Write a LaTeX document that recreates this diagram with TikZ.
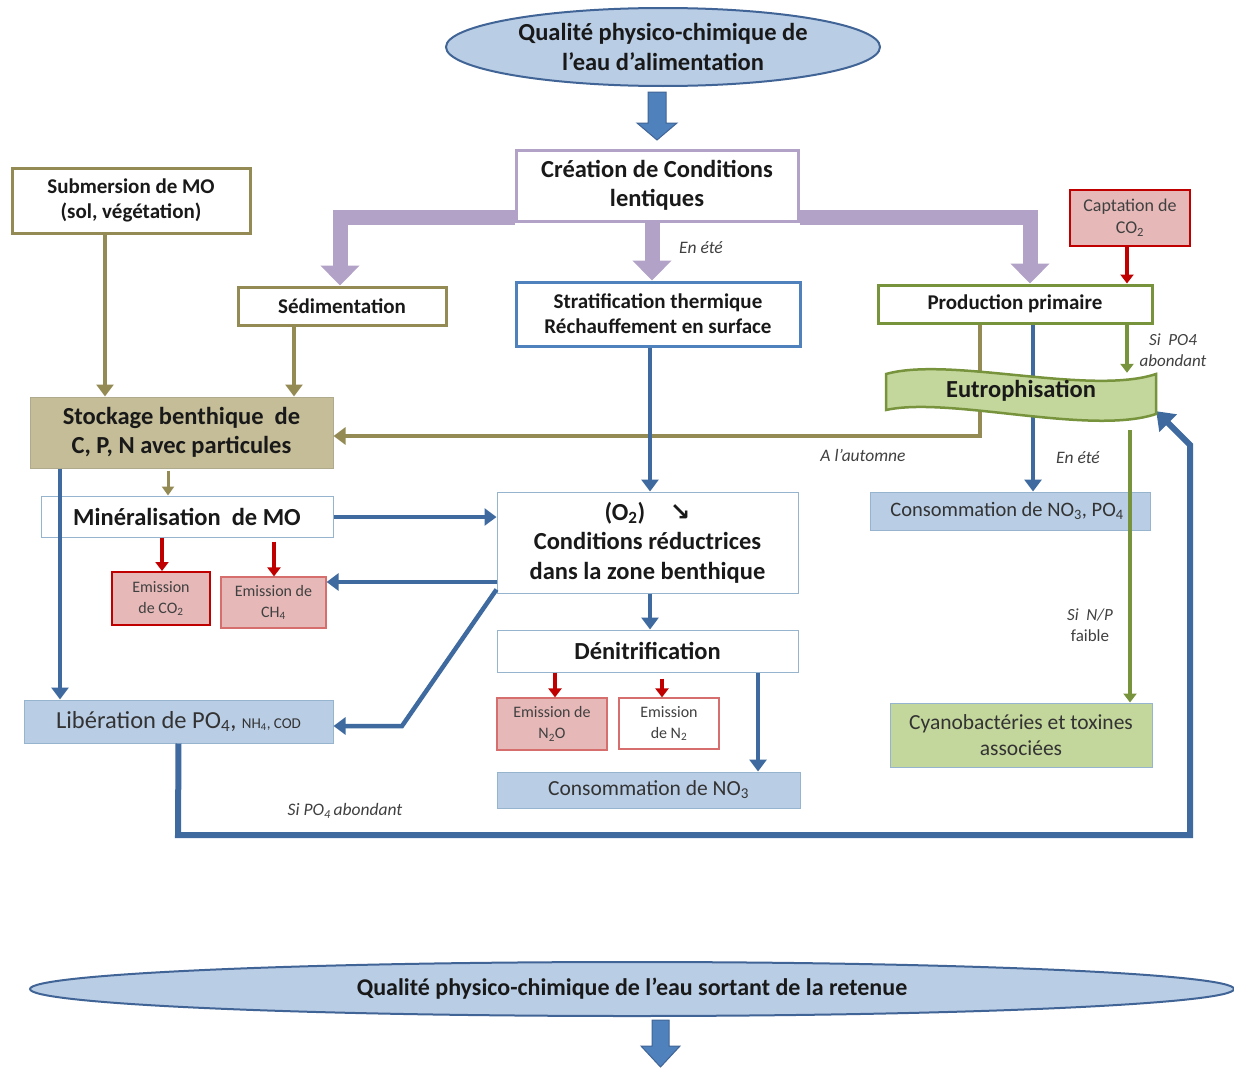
\documentclass[tikz,border=0pt]{standalone}
\usepackage{fontspec}
\setmainfont{Carlito}
\newfontfamily\symfont{DejaVu Sans}
\usetikzlibrary{arrows.meta,shapes.geometric,calc}
\definecolor{cBlue}{RGB}{62,106,160}
\definecolor{cLBlue}{RGB}{185,205,229}
\definecolor{cEBlue}{RGB}{65,100,150}
\definecolor{cBBlue}{RGB}{79,129,189}
\definecolor{cPurp}{RGB}{179,162,199}
\definecolor{cOlive}{RGB}{148,138,84}
\definecolor{cTan}{RGB}{196,189,151}
\definecolor{cTanB}{RGB}{175,170,140}
\definecolor{cGreen}{RGB}{119,147,60}
\definecolor{cGFill}{RGB}{195,214,155}
\definecolor{cRed}{RGB}{192,0,0}
\definecolor{cRedL}{RGB}{215,110,110}
\definecolor{cPink}{RGB}{230,185,184}
\definecolor{cThin}{RGB}{150,180,205}
\definecolor{cTxt}{RGB}{25,25,25}
\definecolor{cLbl}{RGB}{64,64,64}
\tikzset{
  boxbase/.style={rectangle, inner sep=0pt, align=center, text=cTxt},
  bigbold/.style={font=\fontsize{24.5}{29.5}\selectfont\bfseries},
  midbold/.style={font=\fontsize{21}{25}\selectfont\bfseries},
  olivebox/.style={boxbase, draw=cOlive, line width=3pt, fill=white, midbold},
  purpbox/.style={boxbase, draw=cPurp, line width=3pt, fill=white, bigbold},
  bluebox/.style={boxbase, draw=cBBlue, line width=3pt, fill=white, midbold},
  greenbox/.style={boxbase, draw=cGreen, line width=3pt, fill=white, midbold},
  thinbox/.style={boxbase, draw=cThin, line width=1pt, fill=white, bigbold},
  lbbox/.style={boxbase, draw=cThin, line width=1pt, fill=cLBlue, font=\fontsize{21.5}{24}\selectfont, text=black!80},
  pinkbox/.style={boxbase, draw=cRed, line width=2pt, fill=cPink, font=\fontsize{16}{21}\selectfont, text=black!75},
  ellbox/.style={ellipse, inner sep=0pt, align=center, draw=cEBlue, line width=2pt, fill=cLBlue, text=cTxt},
  bconn/.style={draw=cBlue, line width=4.5pt, -{Triangle[length=12pt,width=17pt]}},
  oconn/.style={draw=cOlive, line width=4.5pt, -{Triangle[length=12pt,width=17pt]}},
  pconn/.style={draw=cPurp, line width=15pt, line join=miter, -{Triangle[length=20pt,width=38pt]}},
  rconn/.style={draw=cRed, line width=3.5pt, -{Triangle[length=9pt,width=13pt]}},
  gconn/.style={draw=cGreen, line width=3.5pt, -{Triangle[length=9pt,width=13pt]}},
  lbl/.style={font=\fontsize{17.5}{21}\selectfont\itshape, text=cLbl, align=center},
  blockarrow/.style={fill=cBBlue, draw=cEBlue, line width=1pt, line join=miter}
}
\begin{document}
\begin{tikzpicture}[x=1pt,y=-1pt]
\useasboundingbox (0,0) rectangle (1234,1068);
\fill[white] (0,0) rectangle (1234,1068);

% x-positions for connectors
\coordinate (xP1) at (340,217);
\coordinate (xP2) at (1030,217);
\coordinate (xPm) at (652,0);
\coordinate (xSub) at (105,0);
\coordinate (xSed) at (294,0);
\coordinate (xStk) at (168,0);
\coordinate (xLib) at (60,0);
\coordinate (xStr) at (650,0);
\coordinate (xPrO) at (980,0);
\coordinate (xPrB) at (1033,0);
\coordinate (xPrG) at (1127,0);
\coordinate (xEuG) at (1130,0);
\coordinate (xCO) at (162,0);
\coordinate (xCH) at (274,0);
\coordinate (xNO) at (555,0);
\coordinate (xNN) at (662,0);
\coordinate (xDn) at (758,0);
\coordinate (yMin) at (0,517);
\coordinate (yCH) at (0,582);
\coordinate (yLib) at (0,726);
\coordinate (yAut) at (0,436);
\coordinate (kink) at (402,726);
\coordinate (fb1) at (178,835);
\coordinate (fb2) at (1190,835);
\coordinate (fb3) at (1190,445);

% nodes
\node[ellbox, minimum width=434pt, minimum height=78pt, bigbold] (top) at (663,47) {Qualité physico-chimique de\\l’eau d’alimentation};
\node[purpbox, minimum width=282pt, minimum height=71pt] (crea) at (657,185.5) {Création de Conditions\\lentiques};
\node[olivebox, minimum width=238pt, minimum height=65pt] (sub) at (131,200.5) {Submersion de MO\\(sol, végétation)};
\node[olivebox, minimum width=208pt, minimum height=38pt] (sed) at (342,306) {Sédimentation};
\node[bluebox, minimum width=284pt, minimum height=64pt] (str) at (658,314) {Stratification thermique\\Réchauffement en surface};
\node[greenbox, minimum width=274pt, minimum height=38pt] (prod) at (1015,304) {Production primaire};
\node[pinkbox, minimum width=120pt, minimum height=56pt, font=\fontsize{18}{22}\selectfont] (capt) at (1130,218) {Captation de\\CO\textsubscript{2}};
\node[boxbase, minimum width=270pt, minimum height=40pt, bigbold] (eutro) at (1021,391) {};
\node[boxbase, draw=cTanB, line width=1pt, fill=cTan, minimum width=303pt, minimum height=71pt, bigbold] (stk) at (181.5,432.5) {Stockage benthique\ \ de\\C, P, N avec particules};
\node[thinbox, minimum width=292pt, minimum height=41pt] (min) at (187,516.5) {Minéralisation\ \ de MO};
\node[thinbox, minimum width=301pt, minimum height=101pt] (cond) at (647.5,542.5) {(O\textsubscript{2})\quad{\symfont\bfseries ↘}\\Conditions\ réductrices\\dans\ la zone benthique};
\node[pinkbox, minimum width=98pt, minimum height=53pt] (eco) at (161,598.5) {Emission\\de CO\textsubscript{2}};
\node[pinkbox, draw=cRedL, line width=1.2pt, minimum width=105pt, minimum height=51pt] (ech) at (273.5,602.5) {Emission de\\CH\textsubscript{4}};
\node[lbbox, minimum width=309pt, minimum height=43pt, font=\fontsize{24.5}{26}\selectfont] (lib) at (178.5,721.5) {Libération de PO\textsubscript{4}, {\fontsize{15}{16}\selectfont NH\textsubscript{4}, COD}};
\node[thinbox, minimum width=301pt, minimum height=42pt] (den) at (647.5,651) {Dénitrification};
\node[pinkbox, draw=cRedL, line width=1.2pt, minimum width=110pt, minimum height=52pt] (nox) at (552,724) {Emission de\\N\textsubscript{2}O};
\node[pinkbox, draw=cRedL, fill=white, line width=1.2pt, minimum width=100pt, minimum height=51pt] (nn) at (669,723.5) {Emission\\de N\textsubscript{2}};
\node[lbbox, minimum width=303pt, minimum height=36pt] (cno) at (648.5,790) {Consommation de NO\textsubscript{3}};
\node[lbbox, minimum width=280pt, minimum height=38pt, font=\fontsize{20.5}{24}\selectfont] (cnp) at (1010,511) {Consommation de NO\textsubscript{3}, PO\textsubscript{4}\hspace*{6pt}};
\node[boxbase, draw=cThin, line width=1pt, fill=cGFill, minimum width=262pt, minimum height=64pt, font=\fontsize{21.5}{26}\selectfont, text=black!80] (cya) at (1021,735) {Cyanobactéries et toxines\\associées};
\node[ellbox, minimum width=1204pt, minimum height=54pt, font=\fontsize{24}{26}\selectfont\bfseries] (bot) at (632,989) {Qualité physico-chimique de l’eau sortant de la retenue};

% purple connectors
\draw[pconn] (crea.west |- xP1) -- (xP1) -- (xP1 |- sed.north);
\draw[pconn] (crea.east |- xP2) -- (xP2) -- (xP2 |- prod.north);
\draw[pconn] (crea.south -| xPm) -- (str.north -| xPm);
% box redrawn on top of the purple bars
\node[purpbox, minimum width=282pt, minimum height=71pt] at (crea) {Création de Conditions\\lentiques};

% block arrows
\draw[blockarrow] (648,92) -- (666,92) -- (666,123) -- (677,123) -- (657,140) -- (637,123) -- (648,123) -- cycle;
\draw[blockarrow] (652,1020) -- (669,1020) -- (669,1046) -- (680,1046) -- (660.5,1067) -- (641,1046) -- (652,1046) -- cycle;

% olive connectors
\draw[oconn] (sub.south -| xSub) -- (stk.north -| xSub);
\draw[oconn] (sed.south -| xSed) -- (stk.north -| xSed);
\draw[oconn, line width=3pt, -{Triangle[length=9pt,width=12pt]}] ([yshift=-2pt]stk.south -| xStk) -- (min.north -| xStk);
\draw[oconn] (prod.south -| xPrO) -- (xPrO |- yAut) -- (stk.east |- yAut);

% blue connectors
\draw[bconn] (prod.south -| xPrB) -- (cnp.north -| xPrB);
\draw[bconn] (str.south -| xStr) -- (cond.north -| xStr);
\draw[bconn] (min.east |- yMin) -- (cond.west |- yMin);
\draw[bconn] (cond.west |- yCH) -- (ech.east |- yCH);
\draw[bconn, line join=miter] ([yshift=-47pt]cond.west) -- (kink) -- (lib.east |- yLib);
\draw[bconn] (stk.south -| xLib) -- (lib.north -| xLib);
\draw[bconn] (cond.south -| xStr) -- (den.north -| xStr);
\draw[bconn] (den.south -| xDn) -- (cno.north -| xDn);
\draw[bconn, line width=6pt, line join=miter, -{Triangle[length=17pt,width=24pt]}] (lib.south) -- (fb1) -- (fb2) -- (fb3) -- (eutro.south east);

% eutrophisation wave
\draw[fill=cGFill, draw=cGreen, line width=2.5pt] (886,374) .. controls (950,356) and (1090,396) .. (1156,374) -- (1156,414) .. controls (1090,436) and (950,396) .. (886,410) -- cycle;
\node[boxbase, bigbold] at (eutro) {Eutrophisation};

% red connectors
\draw[rconn] (capt.south -| xPrG) -- (prod.north -| xPrG);
\draw[rconn] (min.south -| xCO) -- (eco.north -| xCO);
\draw[rconn] ([yshift=-4pt]min.south -| xCH) -- (ech.north -| xCH);
\draw[rconn] (den.south -| xNO) -- (nox.north -| xNO);
\draw[rconn] ([yshift=-6pt]den.south -| xNN) -- (nn.north -| xNN);

% green connectors
\draw[gconn] (prod.south -| xPrG) -- ([yshift=-2pt]eutro.north -| xPrG);
\draw[gconn, line width=4pt] ([yshift=-19pt]eutro.south -| xEuG) -- (cya.north -| xEuG);

% labels
\node[lbl] (l1) at (701,248) {En été};
\node[lbl, font=\fontsize{17}{21}\selectfont\itshape] (l2) at (1173,350) {Si\ \ PO4\\abondant};
\node[lbl] (l3) at (863,455) {A l’automne};
\node[lbl] (l4) at (1078,458) {En été};
\node[lbl, font=\fontsize{17}{21}\selectfont] (l5) at (1090,625) {\textit{Si\ \ N/P}\\faible};
\node[lbl] (l6) at (345,811) {Si PO\textsubscript{4}\,abondant};
\end{tikzpicture}
\end{document}
